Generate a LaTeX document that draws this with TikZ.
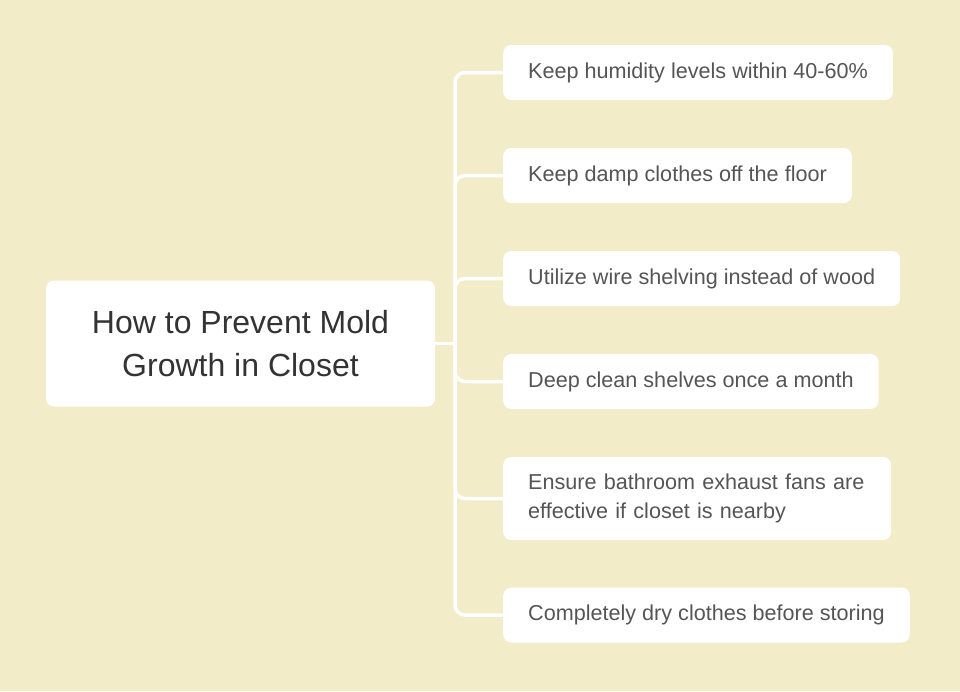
\documentclass[tikz,border=0pt]{standalone}
\usepackage{fontspec}
\setmainfont{Liberation Sans}
\usepackage{xcolor}
\usetikzlibrary{positioning}
\definecolor{bgcream}{HTML}{F3ECC9}
\definecolor{tiptext}{HTML}{555555}
\definecolor{roottext}{HTML}{333333}
\tikzset{
    box/.style={fill=white, rounded corners=8pt, inner ysep=0pt},
    tipbox/.style={box, anchor=west, align=left, inner xsep=25pt, minimum height=55pt,
        text=tiptext, font=\fontsize{21.6}{28.3}\selectfont},
    branch/.style={draw=white, line width=3.5pt, rounded corners=10pt}
}

\begin{document}
\begin{tikzpicture}[x=1pt,y=-1pt]
    % background
    \fill[bgcream] (0,0) rectangle (960,691);
    \useasboundingbox (0,0) rectangle (960,691);

    % draw the root box
    \node[box, inner xsep=0pt, minimum width=389pt, minimum height=126pt, align=center,
        text=roottext, font=\fontsize{32}{43}\selectfont] (root) at (240.5,343.5)
        {How to Prevent Mold\\Growth in Closet};

    % draw the tips
    \node[tipbox] (tip1) at (503,72.5) {Keep humidity levels within 40-60\%};
    \node[tipbox] (tip2) at (503,175.5) {Keep damp clothes off the floor};
    \node[tipbox] (tip3) at (503,278.5) {Utilize wire shelving instead of wood};
    \node[tipbox] (tip4) at (503,381.5) {Deep clean shelves once a month};
    \node[tipbox, text width=338pt, minimum height=83pt] (tip5) at (503,498.5)
        {Ensure bathroom exhaust fans are\\effective if closet is nearby};
    \node[tipbox] (tip6) at (503,615) {Completely dry clothes before storing};

    % draw the branches
    \coordinate (trunk) at (455,343.5);
    \draw[branch] (root.east) -- (trunk);
    \foreach \n in {1,...,6}
        \draw[branch] (trunk) |- (tip\n.west);
\end{tikzpicture}
\end{document}
